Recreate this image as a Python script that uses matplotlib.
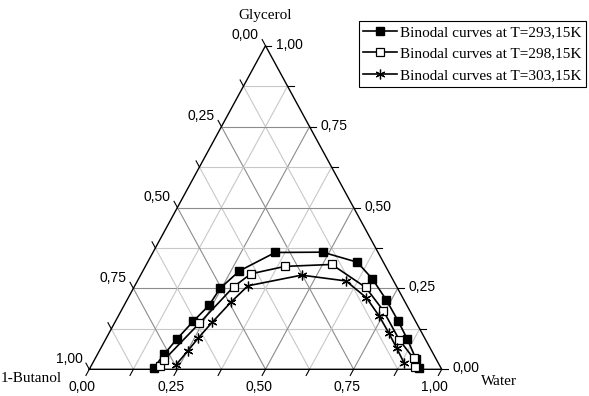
import matplotlib
matplotlib.use('Agg')
import matplotlib.pyplot as plt

# mass fractions (glycerol, water); butanol = 1 - g - w
G_293 = [0.005, 0.046, 0.094, 0.149, 0.198, 0.250, 0.304, 0.361, 0.362, 0.331, 0.279, 0.214, 0.149, 0.094, 0.032, 0.005]
W_293 = [0.181, 0.189, 0.202, 0.221, 0.241, 0.246, 0.274, 0.347, 0.481, 0.595, 0.664, 0.736, 0.802, 0.855, 0.911, 0.933]

G_298 = [0.009, 0.030, 0.142, 0.255, 0.295, 0.318, 0.324, 0.253, 0.181, 0.092, 0.034, 0.006]
W_298 = [0.196, 0.198, 0.241, 0.282, 0.311, 0.396, 0.526, 0.658, 0.744, 0.833, 0.903, 0.921]

G_303 = [0.013, 0.057, 0.097, 0.145, 0.207, 0.258, 0.291, 0.273, 0.221, 0.164, 0.112, 0.066, 0.019]
W_303 = [0.239, 0.251, 0.261, 0.276, 0.298, 0.321, 0.457, 0.592, 0.676, 0.741, 0.794, 0.839, 0.884]

LABELS = ['Binodal curves at T=293,15K', 'Binodal curves at T=298,15K', 'Binodal curves at T=303,15K']
TICKS = [0.0, 0.25, 0.5, 0.75, 1.0]
TICK_LABELS = ['0,00', '0,25', '0,50', '0,75', '1,00']
STEP = 0.125

SANS = 'Liberation Sans'
SERIF = 'Liberation Serif'


def tern(g, w):
    # x along the base (water), y up to the glycerol apex
    return [wi + gi / 2 for gi, wi in zip(g, w)], list(g)


fig = plt.figure(figsize=(5.89, 3.96), dpi=100)
ax = fig.add_axes([89.3 / 589, (396 - 369.3) / 396, 352.4 / 589, 323.6 / 396])
ax.set_xlim(0, 1)
ax.set_ylim(0, 1)
ax.axis('off')

# сетка
n = int(round(1 / STEP))
for i in range(1, n):
    k = i * STEP
    major = abs(k / 0.25 - round(k / 0.25)) < 1e-6
    col = '#8c8c8c' if major else '#c8c8c8'
    ax.plot([k / 2, 1 - k / 2], [k, k], color=col, lw=0.8, zorder=1)
    ax.plot([k, k + (1 - k) / 2], [0, 1 - k], color=col, lw=0.8, zorder=1)
    ax.plot([1 - k, (1 - k) / 2], [0, 1 - k], color=col, lw=0.8, zorder=1)

ax.plot([0, 1, 0.5, 0], [0, 0, 1, 0], color='black', lw=1.0, zorder=2, clip_on=False)

# ticks, along the grid directions
TL = 0.019
for i in range(n + 1):
    k = i * STEP
    # water (bottom)
    ax.plot([k, k - TL / 2], [0, -TL], color='black', lw=0.8, clip_on=False)
    # butanol (left), b = k
    x0, y0 = (1 - k) / 2, 1 - k
    ax.plot([x0, x0 - TL / 2], [y0, y0 + TL], color='black', lw=0.8, clip_on=False)
    # glycerol (right)
    ax.plot([1 - k / 2, 1 - k / 2 + 0.017], [k, k], color='black', lw=0.8, clip_on=False)

for t, lab in zip(TICKS, TICK_LABELS):
    ax.annotate(lab, (t - TL / 2, -TL), xytext=(-2.5, -8), textcoords='offset points',
                ha='center', va='center', fontsize=10, family=SANS, annotation_clip=False)
    ax.annotate(lab, ((1 - t) / 2 - TL / 2, 1 - t + TL), xytext=(-2.5, 3.3), textcoords='offset points',
                ha='right', va='center', fontsize=10, family=SANS, annotation_clip=False)
    ax.annotate(lab, (1 - t / 2 + 0.017, t), xytext=(3.6, 0.7), textcoords='offset points',
                ha='left', va='center', fontsize=10, family=SANS, annotation_clip=False)

ax.annotate('Glycerol', (0.5, 1), xytext=(0, 22), textcoords='offset points',
            ha='center', va='center', fontsize=11, family=SERIF, annotation_clip=False)
ax.annotate('1-Butanol', (0, 0), xytext=(-64, -6.5), textcoords='offset points',
            ha='left', va='center', fontsize=11, family=SERIF, annotation_clip=False)
ax.annotate('Water', (1, 0), xytext=(28, -9), textcoords='offset points',
            ha='left', va='center', fontsize=11, family=SERIF, annotation_clip=False)

x, y = tern(G_293, W_293)
ax.plot(x, y, color='black', lw=1.2, marker='s', ms=5.5, mfc='black', mec='black',
        label=LABELS[0], zorder=5, clip_on=False)
x, y = tern(G_298, W_298)
ax.plot(x, y, color='black', lw=1.2, marker='s', ms=5.5, mfc='white', mec='black', mew=0.9,
        label=LABELS[1], zorder=6, clip_on=False)
x, y = tern(G_303, W_303)
ax.plot(x, y, color='black', lw=1.2, marker=(6, 2, 0), ms=7, mec='black', mew=0.9,
        label=LABELS[2], zorder=7, clip_on=False)

leg = ax.legend(loc='upper right', bbox_to_anchor=(586 / 589, (396 - 21) / 396),
                bbox_transform=fig.transFigure, borderaxespad=0, fancybox=False,
                framealpha=1, edgecolor='black', prop={'family': SERIF, 'size': 11},
                handlelength=2.2, handletextpad=0.2, labelspacing=0.5, borderpad=0.3,
                numpoints=1)
leg.get_frame().set_linewidth(0.8)

fig.savefig('out.png', dpi=100)
